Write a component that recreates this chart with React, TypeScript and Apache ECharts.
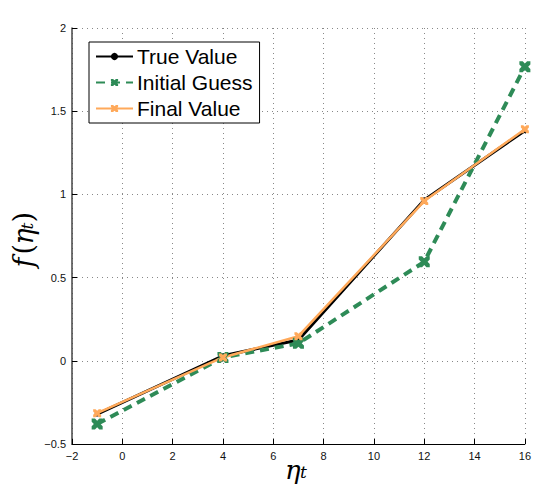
import React, { useEffect, useRef } from "react";
import * as echarts from "echarts";

const xValues = [-1, 4, 7, 12, 16];
const trueValue = [-0.32, 0.03, 0.125, 0.967, 1.383];
const initialGuess = [-0.38, 0.02, 0.105, 0.595, 1.767];
const finalValue = [-0.315, 0.02, 0.148, 0.96, 1.392];
const seriesNames = ["True Value", "Initial Guess", "Final Value"];

const X_PATH =
  "path://M0,0 L3,0 L5,2 L7,0 L10,0 L10,3 L8,5 L10,7 L10,10 L7,10 L5,8 L3,10 L0,10 L0,7 L2,5 L0,3 Z";

export default function App() {
  const ref = useRef<HTMLDivElement>(null);
  useEffect(() => {
    if (!ref.current) return;
    const chart = echarts.init(ref.current, null, { renderer: "svg" });
    const pairs = (ys: number[]) => xValues.map((x, i) => [x, ys[i]]);
    const minus = (v: number) => String(v).replace("-", "\u2212");
    const tickFont = { fontFamily: "Liberation Sans", fontSize: 11, color: "#111" };
    const serif = "'DejaVu Serif', 'Liberation Serif', serif";
    chart.setOption({
      animation: false,
      backgroundColor: "#fff",
      grid: { left: 72, top: 28, right: 7, bottom: 41, containLabel: false },
      legend: {
        orient: "vertical",
        left: 89,
        top: 42,
        padding: [4, 7, 4, 6],
        itemGap: 5,
        itemWidth: 37,
        itemHeight: 9,
        backgroundColor: "#fff",
        borderColor: "#000",
        borderWidth: 1,
        borderRadius: 0,
        data: seriesNames,
        textStyle: { fontFamily: "Liberation Sans", fontSize: 21, color: "#000", padding: [0, 0, 0, -1] },
      },
      xAxis: {
        type: "value",
        min: -2,
        max: 16,
        interval: 2,
        axisLine: { show: true, onZero: false, lineStyle: { color: "#000", width: 1 } },
        axisTick: { show: true, inside: true, length: 5, lineStyle: { color: "#000" } },
        axisLabel: { ...tickFont, margin: 6, formatter: minus },
        splitLine: { show: true, lineStyle: { color: "#888", type: [1, 4], width: 1 } },
      },
      yAxis: {
        type: "value",
        min: -0.5,
        max: 2,
        interval: 0.5,
        axisLine: { show: true, onZero: false, lineStyle: { color: "#444", width: 1.5 } },
        axisTick: { show: true, inside: true, length: 5, lineStyle: { color: "#000" } },
        axisLabel: { ...tickFont, margin: 6, formatter: minus },
        splitLine: { show: true, lineStyle: { color: "#888", type: [1, 4], width: 1 } },
      },
      series: [
        {
          name: seriesNames[0],
          type: "line",
          data: pairs(trueValue),
          color: "#000",
          lineStyle: { color: "#000", width: 3 },
          symbol: "circle",
          symbolSize: 5,
          itemStyle: { color: "#000" },
        },
        {
          name: seriesNames[1],
          type: "line",
          data: pairs(initialGuess),
          color: "#2e8b57",
          lineStyle: { color: "#2e8b57", width: 4, type: [9, 6] },
          symbol: X_PATH,
          symbolSize: 11,
          itemStyle: { color: "#2e8b57" },
        },
        {
          name: seriesNames[2],
          type: "line",
          data: pairs(finalValue),
          color: "#ffa95a",
          lineStyle: { color: "#ffa95a", width: 2.5 },
          symbol: X_PATH,
          symbolSize: 8,
          itemStyle: { color: "#ffa95a" },
        },
      ],
      graphic: [
        {
          type: "group",
          left: 285,
          top: 457,
          children: [
            {
              type: "text",
              x: 0,
              y: 0,
              style: { text: "\u03b7", font: `italic 26px ${serif}`, fill: "#000" },
            },
            {
              type: "text",
              x: 15,
              y: 6,
              style: { text: "t", font: `italic 17px ${serif}`, fill: "#000" },
            },
          ],
        },
        {
          type: "group",
          left: 10,
          top: 212,
          rotation: Math.PI / 2,
          children: [
            {
              type: "text",
              x: 0,
              y: 0,
              style: { text: "f", font: `italic 27px ${serif}`, fill: "#000" },
            },
            {
              type: "text",
              x: 13,
              y: 0,
              style: { text: "(", font: `27px ${serif}`, fill: "#000" },
            },
            {
              type: "text",
              x: 23,
              y: 0,
              style: { text: "\u03b7", font: `italic 27px ${serif}`, fill: "#000" },
            },
            {
              type: "text",
              x: 38,
              y: 8,
              style: { text: "t", font: `italic 17px ${serif}`, fill: "#000" },
            },
            {
              type: "text",
              x: 45,
              y: 0,
              style: { text: ")", font: `27px ${serif}`, fill: "#000" },
            },
          ],
        },
      ],
    });
    return () => chart.dispose();
  }, []);
  return (
    <div
      ref={ref}
      style={{ position: "absolute", left: 0, top: 0, width: 534, height: 485 }}
    />
  );
}
